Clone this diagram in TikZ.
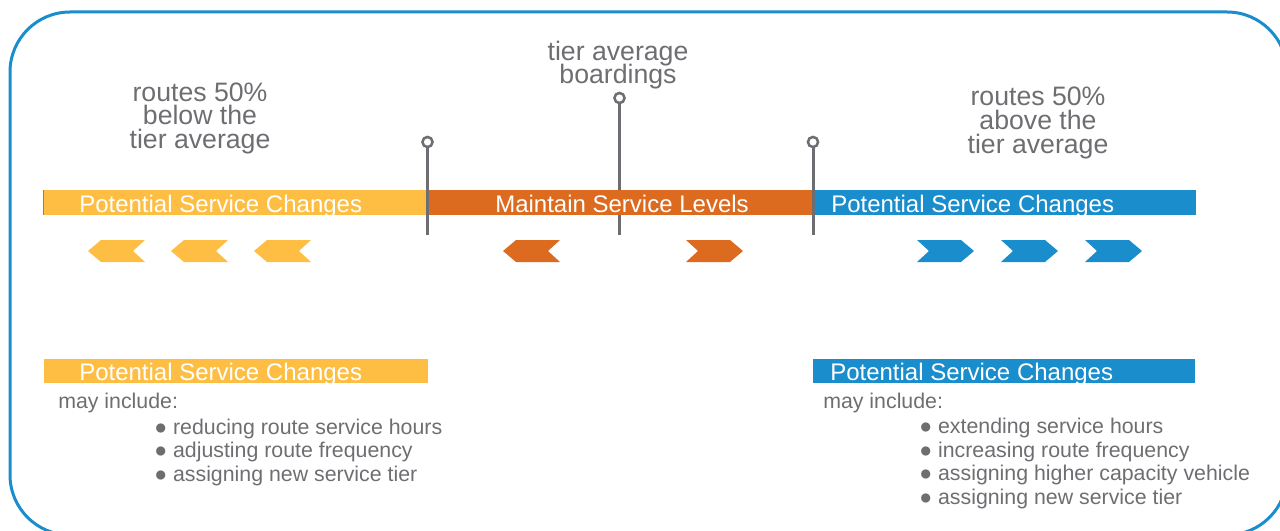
\documentclass[tikz,border=0pt]{standalone}
\usepackage{fontspec}
\setmainfont{Liberation Sans}
\definecolor{cyel}{HTML}{FEBE43}
\definecolor{corg}{HTML}{DC6B1F}
\definecolor{cblu}{HTML}{1A8DCD}
\definecolor{cgry}{HTML}{6D6E71}
\begin{document}
\begin{tikzpicture}[x=0.75pt,y=-0.75pt,
  frame/.style={draw=cblu, line width=2.25pt, rounded corners=45pt},
  pinhead/.style={circle, draw=cgry, fill=white, line width=1.9pt, minimum size=7.6pt, inner sep=0pt},
  pinline/.style={draw=cgry, line width=2.25pt},
  bartext/.style={text=white, font=\fontsize{18}{20}\selectfont, inner sep=0pt},
  lbl/.style={text=cgry, font=\fontsize{20}{22}\selectfont, inner sep=0pt, anchor=base},
  listtext/.style={text=cgry, font=\fontsize{16}{18}\selectfont, inner sep=0pt, anchor=base west},
  chev/.pic={\fill[pic actions] (0,0) -- (13,-11) -- (57,-11) -- (45,0) -- (57,11) -- (13,11) -- cycle;}
]
\useasboundingbox (0,0) rectangle (1280,531);
\begin{scope}
  \clip (0,0) rectangle (1280,531);
  \draw[frame] (10,12) rectangle (1287,535);
\end{scope}

% top labels
\node[lbl] (la1) at (200,102) {routes 50\%};
\node[lbl] (la2) at (200,125) {below the};
\node[lbl] (la3) at (200,148) {tier average};
\node[lbl] (ma1) at (618,61) {tier average};
\node[lbl] (ma2) at (618,84) {boardings};
\node[lbl] (ra1) at (1038,106) {routes 50\%};
\node[lbl] (ra2) at (1038,130) {above the};
\node[lbl] (ra3) at (1038,153) {tier average};

% middle pin (behind bar)
\node[pinhead] (p2) at (619.5,98) {};
\coordinate (p2e) at (619.5,235);
\draw[pinline] (p2.south) -- (p2e);

% main bar
\fill[cyel] (43,190) rectangle (428,215);
\fill[corg] (428,190) rectangle (813,215);
\fill[cblu] (813,190) rectangle (1196,215);
\fill[corg] (43,190) rectangle (44.3,215);
\node[bartext, anchor=base west] (t1) at (79,212) {Potential Service Changes};
\node[bartext, anchor=base] (t2) at (622,212) {Maintain Service Levels};
\node[bartext, anchor=base west] (t3) at (831,212) {Potential Service Changes};

% outer pins (over bar)
\node[pinhead] (p1) at (427.5,142) {};
\coordinate (p1e) at (427.5,235);
\draw[pinline] (p1.south) -- (p1e);
\node[pinhead] (p3) at (813,142) {};
\coordinate (p3e) at (813,235);
\draw[pinline] (p3.south) -- (p3e);

% chevrons
\pic[fill=cyel] at (88,251) {chev};
\pic[fill=cyel] at (171,251) {chev};
\pic[fill=cyel] at (254,251) {chev};
\pic[fill=corg] at (503,251) {chev};
\pic[fill=corg, xscale=-1] at (743,251) {chev};
\pic[fill=cblu, xscale=-1] at (974,251) {chev};
\pic[fill=cblu, xscale=-1] at (1058,251) {chev};
\pic[fill=cblu, xscale=-1] at (1142,251) {chev};

% bottom banners
\fill[cyel] (44,359) rectangle (428,383);
\fill[cblu] (813,359) rectangle (1195,383);
\node[bartext, anchor=base west] (b1) at (79,380) {Potential Service Changes};
\node[bartext, anchor=base west] (b2) at (830,380) {Potential Service Changes};

% lists
\node[listtext] (lm) at (58,408) {may include:};
\node[listtext] (l1) at (154,434) {● reducing route service hours};
\node[listtext] (l2) at (154,457.5) {● adjusting route frequency};
\node[listtext] (l3) at (154,481) {● assigning new service tier};

\node[listtext] (rm) at (823,408) {may include:};
\node[listtext] (r1) at (919,433) {● extending service hours};
\node[listtext] (r2) at (919,457) {● increasing route frequency};
\node[listtext] (r3) at (919,480) {● assigning higher capacity vehicle};
\node[listtext] (r4) at (919,504) {● assigning new service tier};
\end{tikzpicture}
\end{document}
